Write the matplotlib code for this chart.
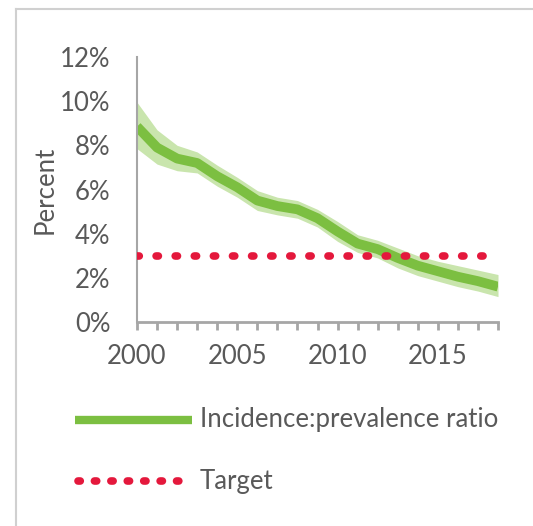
import matplotlib.pyplot as plt
from matplotlib.lines import Line2D

years = list(range(2000, 2019))
ratio = [8.85, 7.9, 7.4, 7.2, 6.6, 6.1, 5.5, 5.25, 5.1, 4.7, 4.1, 3.55, 3.3, 2.9, 2.55, 2.3, 2.05, 1.85, 1.6]
upper = [9.95, 8.7, 8.0, 7.7, 7.1, 6.55, 5.95, 5.65, 5.5, 5.1, 4.55, 3.95, 3.7, 3.35, 3.0, 2.75, 2.55, 2.35, 2.15]
lower = [7.85, 7.15, 6.85, 6.75, 6.15, 5.65, 5.05, 4.85, 4.7, 4.3, 3.65, 3.15, 2.9, 2.45, 2.1, 1.85, 1.6, 1.4, 1.15]
target = [3.0] * len(years)
ytick_vals = [0, 2, 4, 6, 8, 10, 12]
xtick_vals = [2000, 2005, 2010, 2015]

GREEN = "#7cbf41"
BAND = "#c9e5ad"
RED = "#e4183c"
GREY = "#595959"
FS = 18.5
DOTS = (0, (0.3, 2.2))

plt.rcParams["font.family"] = ["Lato", "DejaVu Sans"]

fig = plt.figure(figsize=(5.33, 5.26), dpi=100)
ax = fig.add_axes([137 / 533, 1 - 322 / 526, 361 / 533, 265 / 526])

ax.fill_between(years, lower, upper, color=BAND, lw=0, zorder=1)
ax.plot(years, ratio, color=GREEN, lw=7, solid_capstyle="butt", zorder=2)
ax.plot(years, target, color=RED, lw=5.5, linestyle=DOTS, dash_capstyle="round", zorder=3)

ax.set_xlim(2000, 2018)
ax.set_ylim(0, 12)
ax.set_yticks(ytick_vals)
ax.set_yticklabels([f"{v}%" for v in ytick_vals])
ax.set_xticks(xtick_vals)
ax.set_xticks(years, minor=True)
ax.tick_params(axis="y", length=0, pad=19, labelsize=FS, labelcolor=GREY)
ax.tick_params(axis="x", which="both", direction="out", length=6, width=2,
               color="#a6a6a6", labelsize=FS, labelcolor=GREY, pad=10)
ax.set_ylabel("Percent", fontsize=FS, color=GREY, labelpad=1.5)

for side in ["top", "right"]:
    ax.spines[side].set_visible(False)
ax.spines["left"].set_color("#a6a6a6")
ax.spines["left"].set_linewidth(1.5)
ax.spines["bottom"].set_color("#a6a6a6")
ax.spines["bottom"].set_linewidth(2)

# legend drawn by hand below the axes
fig.add_artist(Line2D([75 / 533, 192 / 533], [1 - 420 / 526] * 2, color=GREEN, lw=6,
                      solid_capstyle="butt"))
fig.text(200 / 533, 1 - 420 / 526, "Incidence:prevalence ratio", fontsize=FS,
         color=GREY, va="center")
fig.add_artist(Line2D([78 / 533, 186 / 533], [1 - 481 / 526] * 2, color=RED, lw=5.5,
                      linestyle=(0, (0.3, 1.85)), dash_capstyle="round"))
fig.text(200 / 533, 1 - 481 / 526, "Target", fontsize=FS, color=GREY, va="center")

# outer frame
fig.add_artist(Line2D([16 / 533, 16 / 533], [0, 1 - 9 / 526], color="#d0d0d0", lw=1.5))
fig.add_artist(Line2D([16 / 533, 1], [1 - 9 / 526] * 2, color="#d0d0d0", lw=1.5))

fig.savefig("out.png", dpi=100)
